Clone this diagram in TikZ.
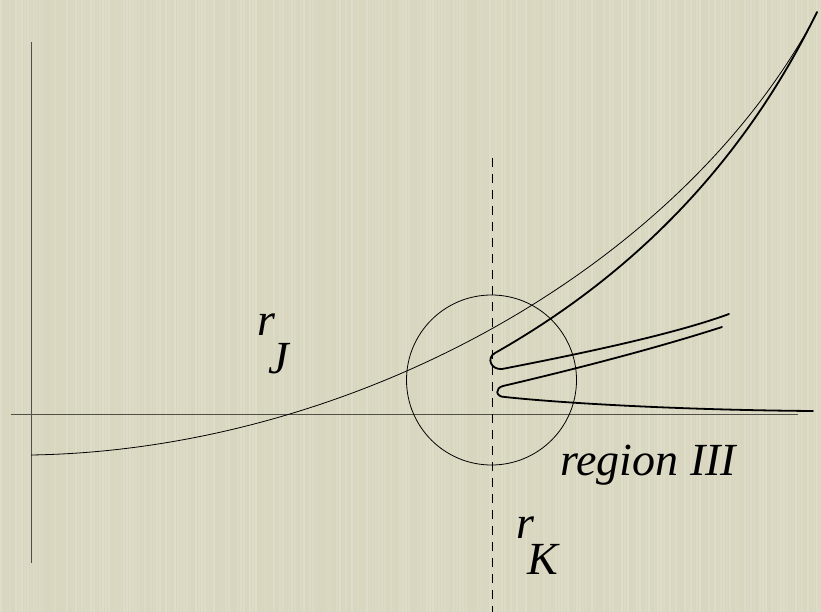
\documentclass[tikz,border=0pt]{standalone}
\usepackage{fontspec}
\setmainfont{Liberation Serif}
\usepackage{tikz}
\usetikzlibrary{positioning}

\definecolor{paper}{RGB}{216,214,190}
\definecolor{axisgrey}{RGB}{80,80,72}

\begin{document}
\begin{tikzpicture}[
x=1pt, y=-1pt,
axis/.style={axisgrey, line width=0.9pt},
thin curve/.style={black, line width=0.8pt},
thick curve/.style={black, line width=1.8pt, line cap=round, line join=round},
lbl/.style={font=\fontsize{46}{52}\selectfont\itshape, inner sep=0pt, anchor=base west}
]
\useasboundingbox (0,0) rectangle (821,612);
\fill[paper] (0,0) rectangle (821,612);
% paper streaks
\pgfmathsetseed{7}
\foreach \i in {1,4,...,820} {
  \pgfmathsetmacro{\op}{0.2*rnd}
  \draw[white, opacity=\op, line width=1.8pt] (\i,0) -- (\i,612);
}

% axes
\draw[axis] (31,42) -- (31,563);
\draw[axis] (11,414.5) -- (798,414.5);
\draw[black, line width=0.9pt, dash pattern=on 9pt off 7pt] (492,158) -- (492,612);
\draw[black, line width=0.8pt] (491.5,380) circle[radius=85];

% thin curve
\draw[thin curve] (31,455) .. controls (350,450) and (680,270) .. (817,13);

% upper hairpin
\draw[thick curve] (729,314) .. controls (680,332) and (600,350) .. (502,369)
  .. controls (491,370) and (486,358) .. (495,353)
  .. controls (615,285) and (735,180) .. (817,12);

% lower hairpin
\draw[thick curve] (722,327) .. controls (660,347) and (580,368) .. (503,386)
  .. controls (495,388) and (495,397) .. (505,397)
  .. controls (560,403) and (680,410) .. (813,411);

% labels
\node[lbl] (rJ) at (257,335) {r};
\node[lbl] (J) at (268,373) {J};
\node[lbl] (rK) at (516,538) {r};
\node[lbl] (K) at (527,574) {K};
\node[lbl] (reg) at (560,475) {region III};
\end{tikzpicture}
\end{document}
